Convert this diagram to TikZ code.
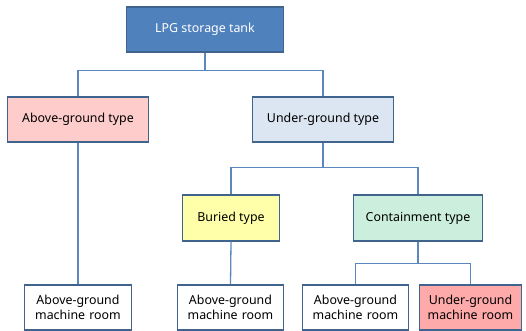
\documentclass[tikz,border=0pt]{standalone}
\usepackage{fontspec}
\setmainfont{Noto Sans}
\usetikzlibrary{positioning, calc}

\definecolor{tankblue}{HTML}{4F81BD}
\definecolor{boxedge}{HTML}{41648F}
\definecolor{lineblue}{HTML}{5B86BE}
\definecolor{abovefill}{HTML}{FFCCCC}
\definecolor{underfill}{HTML}{DCE6F2}
\definecolor{buriedfill}{HTML}{FFFFAA}
\definecolor{containfill}{HTML}{CCEEDD}
\definecolor{roomfill}{HTML}{FFAAAA}

\begin{document}
\begin{tikzpicture}[x=1pt, y=1pt, font=\fontsize{12.4}{15}\selectfont]

% --- Styles ---
\tikzstyle{tank_box}=[rectangle, draw=boxedge, line width=1.2pt, fill=tankblue, text=white, minimum width=157pt, minimum height=45pt]
\tikzstyle{type_box}=[rectangle, draw=boxedge, line width=1.2pt, minimum width=141pt, minimum height=45pt]
\tikzstyle{sub_box}=[rectangle, draw=boxedge, line width=1.2pt, minimum height=46pt]
\tikzstyle{room_box}=[rectangle, draw=boxedge, line width=1.2pt, fill=white, minimum width=104pt, minimum height=45pt, align=center, text width=100pt]
\tikzstyle{tree_line}=[lineblue, line width=1.3pt]

\useasboundingbox (0,0) rectangle (526,-331);

% --- Nodes ---
% root
\node[tank_box] (tank) at (205,-29.5) {LPG storage tank};

% first level
\node[type_box, fill=abovefill] (above) at (78,-119.5) {Above-ground type};
\node[type_box, fill=underfill] (under) at (323,-119.5) {Under-ground type};

% second level
\node[sub_box, fill=buriedfill, minimum width=97pt] (buried) at (231,-218) {Buried type};
\node[sub_box, fill=containfill, minimum width=129pt] (contain) at (418,-218) {Containment type};

% machine rooms
\node[room_box] (room_a) at (78,-307.5) {Above-ground\\machine room};
\node[room_box, minimum width=105pt] (room_b) at (230.5,-307.5) {Above-ground\\machine room};
\node[room_box, minimum width=103pt] (room_c) at (355.5,-307.5) {Above-ground\\machine room};
\node[room_box, fill=roomfill, minimum width=99pt, text width=96pt] (room_d) at (470.5,-307.5) {Under-ground\\machine room};

% --- Branch points ---
\coordinate (tank_split) at ($(tank.south)+(0,-18)$);
\coordinate (under_split) at ($(under.south)+(0,-25)$);
\coordinate (contain_split) at ($(contain.south)+(0,-22)$);

% --- Connections ---
\draw[tree_line] (tank.south) -- (tank_split) -| (above.north);
\draw[tree_line] (tank_split) -| (under.north);
\draw[tree_line] (above.south) -- (room_a.north);

\draw[tree_line] (under.south) -- (under_split) -| (buried.north);
\draw[tree_line] (under_split) -| (contain.north);
\draw[tree_line] (buried.south) -- (room_b.north);

\draw[tree_line] (contain.south) -- (contain_split) -| (room_c.north);
\draw[tree_line] (contain_split) -| (room_d.north);

\end{tikzpicture}
\end{document}
